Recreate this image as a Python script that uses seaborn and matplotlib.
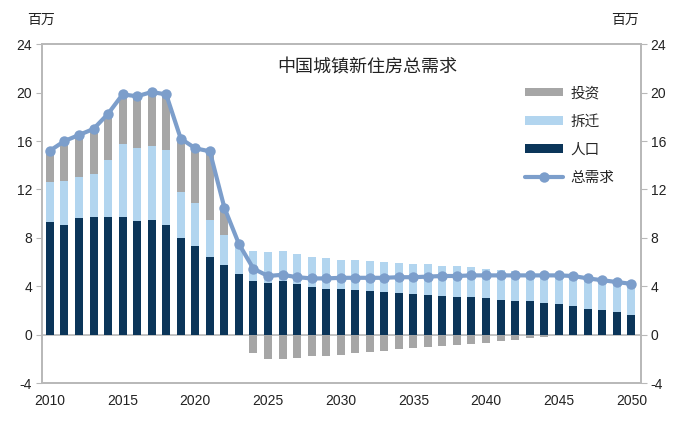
import numpy as np
import pandas as pd
import matplotlib
matplotlib.use("Agg")
import matplotlib.pyplot as plt
import seaborn as sns
from matplotlib.patches import Patch
from matplotlib.lines import Line2D

years = list(range(2010, 2051))
population = [9.3, 9.1, 9.6, 9.75, 9.75, 9.75, 9.4, 9.5, 9.05, 7.95, 7.3, 6.45, 5.75, 5.0,
              4.45, 4.3, 4.45, 4.15, 3.95, 3.8, 3.75, 3.7, 3.6, 3.5, 3.45, 3.4, 3.3, 3.2,
              3.15, 3.1, 3.0, 2.9, 2.8, 2.75, 2.6, 2.5, 2.35, 2.15, 2.0, 1.85, 1.65]
relocation = [3.3, 3.6, 3.4, 3.5, 4.7, 6.0, 6.05, 6.05, 6.25, 3.8, 3.6, 3.0, 2.45, 2.3,
              2.45, 2.5, 2.5, 2.5, 2.45, 2.5, 2.45, 2.45, 2.5, 2.5, 2.45, 2.4, 2.5, 2.5,
              2.5, 2.5, 2.45, 2.45, 2.45, 2.4, 2.5, 2.45, 2.55, 2.5, 2.5, 2.5, 2.55]
investment = [2.6, 3.3, 3.5, 3.75, 3.8, 4.1, 4.25, 4.5, 4.55, 4.45, 4.5, 5.7, 2.3, 0.2,
              -1.5, -2.0, -2.0, -1.95, -1.8, -1.75, -1.65, -1.55, -1.45, -1.35, -1.2, -1.1,
              -1.05, -0.95, -0.85, -0.75, -0.65, -0.55, -0.45, -0.3, -0.2, -0.05, 0, 0, 0, 0, 0]
total = [15.2, 16.0, 16.5, 17.0, 18.25, 19.85, 19.7, 20.05, 19.85, 16.2, 15.4, 15.15, 10.5, 7.5,
         5.45, 4.85, 4.95, 4.75, 4.65, 4.65, 4.7, 4.7, 4.7, 4.7, 4.75, 4.75, 4.8, 4.85,
         4.85, 4.9, 4.9, 4.9, 4.9, 4.9, 4.9, 4.9, 4.85, 4.65, 4.5, 4.35, 4.2]

labels = ["投资", "拆迁", "人口", "总需求"]
title = "中国城镇新住房总需求"
unit = "百万"

C_NAVY = "#0b3559"
C_LIGHT = "#b2d5ef"
C_GRAY = "#a6a6a6"
C_LINE = "#7c9ecb"
C_AXIS = "#b8b8b8"

df = pd.DataFrame({"year": years, "pop": population, "reloc": relocation,
                   "inv": investment, "total": total})
df["pr"] = df["pop"] + df["reloc"]
df["gray"] = np.where(df["inv"] > 0, df["pr"] + df["inv"], df["inv"])

sns.set_style("white")
plt.rcParams["font.family"] = ["Liberation Sans", "Noto Sans CJK SC", "DejaVu Sans"]
plt.rcParams["axes.unicode_minus"] = False
CJK = ["Noto Sans CJK SC", "DejaVu Sans"]

fig = plt.figure(figsize=(6.76, 4.21), dpi=100)
ax = fig.add_axes([0.062, 0.09, 0.886, 0.805])

bw = 0.55
sns.barplot(data=df, x="year", y="gray", native_scale=True, color=C_GRAY,
            width=bw, saturation=1, ax=ax, linewidth=0, zorder=2)
sns.barplot(data=df, x="year", y="pr", native_scale=True, color=C_LIGHT,
            width=bw, saturation=1, ax=ax, linewidth=0, zorder=3)
sns.barplot(data=df, x="year", y="pop", native_scale=True, color=C_NAVY,
            width=bw, saturation=1, ax=ax, linewidth=0, zorder=4)
sns.lineplot(data=df, x="year", y="total", color=C_LINE, linewidth=3,
             marker="o", markersize=7.5, markeredgewidth=0, ax=ax, zorder=5)

ax.axhline(0, color=C_AXIS, linewidth=1.2, zorder=1)
ax.set_xlim(2009.45, 2050.65)
ax.set_ylim(-4, 24)
ax.set_yticks(range(-4, 25, 4))
ax.set_xticks(range(2010, 2051, 5))
ax.set_xlabel("")
ax.set_ylabel("")
for s in ax.spines.values():
    s.set_color(C_AXIS)
    s.set_linewidth(1.2)
ax.tick_params(axis="y", left=True, length=4, color=C_AXIS, labelsize=10,
               labelcolor="#222222", pad=3)
ax.tick_params(axis="x", bottom=False, labelsize=10, labelcolor="#222222", pad=4)

ax2 = ax.twinx()
ax2.set_ylim(-4, 24)
ax2.set_yticks(range(-4, 25, 4))
for s in ax2.spines.values():
    s.set_color(C_AXIS)
    s.set_linewidth(1.2)
ax2.tick_params(axis="y", right=True, length=4, color=C_AXIS, labelsize=10,
                labelcolor="#222222", pad=3)

fig.text(367 / 676, 1 - 68 / 421, title, ha="center", va="center",
         fontsize=13, family=CJK, color="#222222")
fig.text(0.061, 0.952, unit, ha="center", va="center", fontsize=10,
         family=CJK, color="#222222")
fig.text(0.925, 0.952, unit, ha="center", va="center", fontsize=10,
         family=CJK, color="#222222")

handles = [Patch(facecolor=C_GRAY, edgecolor="none"),
           Patch(facecolor=C_LIGHT, edgecolor="none"),
           Patch(facecolor=C_NAVY, edgecolor="none"),
           Line2D([0], [0], color=C_LINE, linewidth=3, marker="o", markersize=7.5,
                  markeredgewidth=0)]
leg = ax.legend(handles, labels, loc="upper left", bbox_to_anchor=(0.785, 0.915),
                frameon=False, handlelength=2.6, handleheight=0.55,
                labelspacing=0.98, handletextpad=0.5,
                prop={"family": CJK, "size": 10.5})

fig.savefig("out.png", dpi=100)
